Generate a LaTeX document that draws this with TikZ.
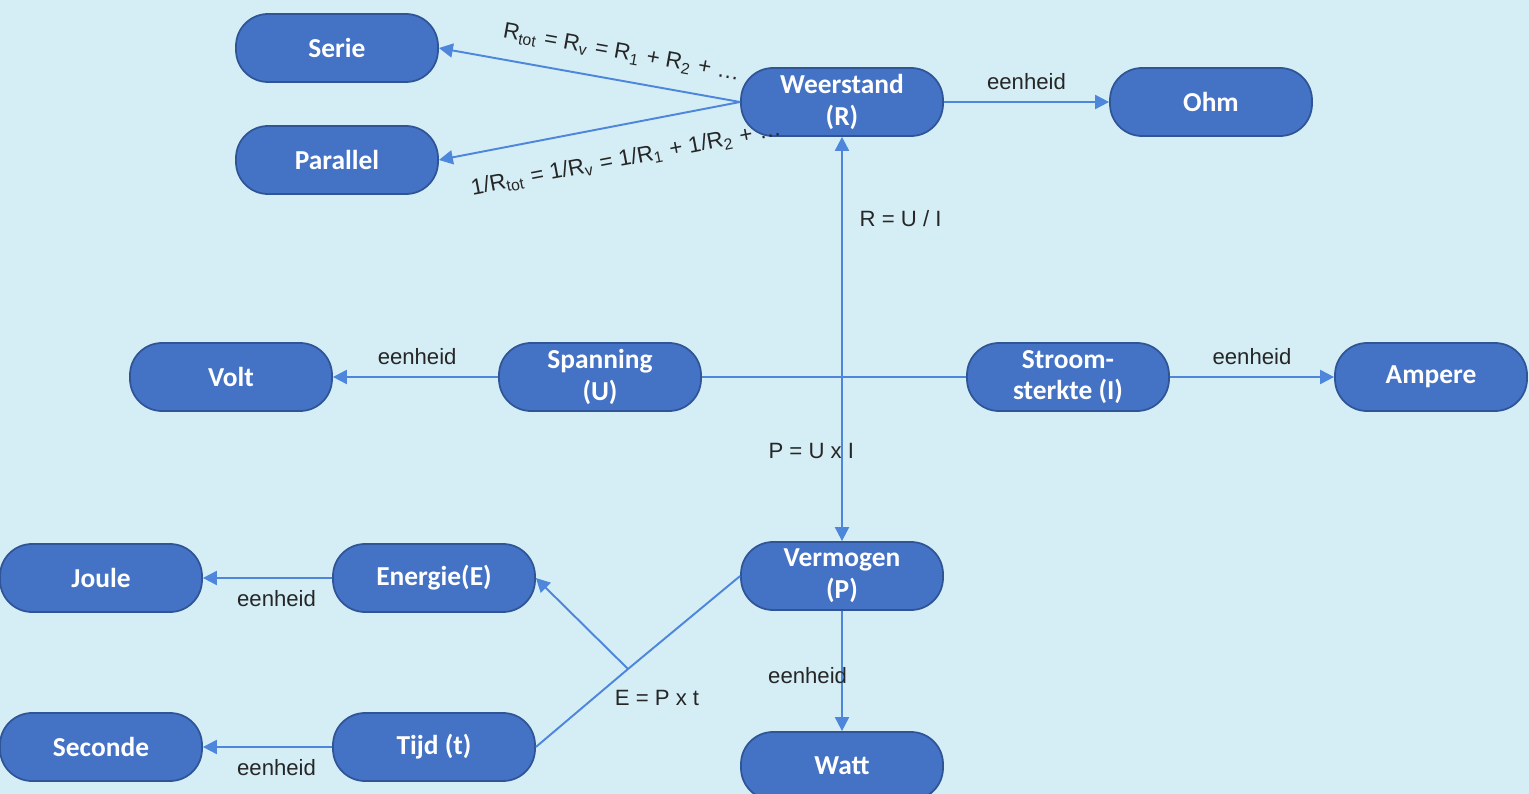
\documentclass[tikz,border=0pt]{standalone}
\usepackage{fontspec}
\setmainfont{Liberation Sans}
\newfontfamily\boxfont{Carlito}
\usetikzlibrary{positioning,arrows.meta}
\definecolor{bgblue}{HTML}{D5EEF6}
\definecolor{boxblue}{HTML}{4472C4}
\definecolor{boxline}{HTML}{2F5597}
\definecolor{linkblue}{HTML}{4D86DB}
\tikzstyle{grootheid} = [rectangle, rounded corners=0.32cm, draw=boxline, line width=0.5pt,
                         fill=boxblue, text=white, minimum width=2.02cm, minimum height=0.68cm,
                         inner ysep=0.5pt, align=center,
                         font=\boxfont\bfseries\fontsize{7.8}{9}\selectfont]
\tikzstyle{lijn}      = [draw=linkblue, line width=0.55pt]
\tikzstyle{arrow}     = [lijn, -{Triangle[length=1.4mm,width=1.4mm]}]
\tikzstyle{lbl}       = [font=\fontsize{6.3}{7}\selectfont, text=black!85]
\tikzstyle{formule}   = [font=\fontsize{6.4}{7}\selectfont, text=black!85, inner sep=1pt]

\begin{document}
\begin{tikzpicture}
    \useasboundingbox[fill=bgblue] (0,0) rectangle (15.29,-7.94);

    % weerstand
    \node[grootheid] (weerstand) at (8.42,-1.02) {Weerstand\\(R)};
    \node[grootheid] (serie)     at (3.37,-0.48) {Serie};
    \node[grootheid] (parallel)  at (3.37,-1.60) {Parallel};
    \node[grootheid] (ohm)       at (12.11,-1.02) {Ohm};

    % spanning en stroom
    \node[grootheid] (spanning) at (6.00,-3.77) {Spanning\\(U)};
    \node[grootheid] (volt)     at (2.31,-3.77) {Volt};
    \node[grootheid] (stroom)   at (10.68,-3.77) {Stroom-\\sterkte (I)};
    \node[grootheid, minimum width=1.92cm] (ampere) at (14.31,-3.77) {Ampere};

    % vermogen en energie
    \node[grootheid] (vermogen) at (8.42,-5.76) {Vermogen\\(P)};
    \node[grootheid] (watt)     at (8.42,-7.66) {Watt};
    \node[grootheid] (energie)  at (4.34,-5.78) {Energie(E)};
    \node[grootheid] (joule)    at (1.01,-5.78) {Joule};
    \node[grootheid] (tijd)     at (4.34,-7.47) {Tijd (t)};
    \node[grootheid] (seconde)  at (1.01,-7.47) {Seconde};

    \coordinate (kruis)  at (weerstand |- spanning);
    \coordinate (splits) at (6.28,-6.69);

    \draw[arrow] (weerstand.west) -- node[formule, sloped, above=0.13cm, pos=0.41]
        {R\textsubscript{tot} = R\textsubscript{v} = R\textsubscript{1} + R\textsubscript{2} + …} (serie.east);
    \draw[arrow] (weerstand.west) -- node[formule, sloped, below=0.2cm, pos=0.4]
        {1/R\textsubscript{tot} = 1/R\textsubscript{v} = 1/R\textsubscript{1} + 1/R\textsubscript{2} + …} (parallel.east);
    \draw[arrow] (weerstand.east) -- node[lbl, above, pos=0.5] {eenheid} (ohm.west);

    \draw[lijn] (spanning.east) -- (stroom.west);
    \draw[arrow] (kruis) -- node[lbl, right=0.05cm, pos=0.66] {R = U / I} (weerstand.south);
    \draw[arrow] (kruis) -- node[lbl, left, inner sep=0pt, xshift=0.13cm, pos=0.45] {P = U x I} (vermogen.north);
    \draw[arrow] (spanning.west) -- node[lbl, above, pos=0.49] {eenheid} (volt.east);
    \draw[arrow] (stroom.east) -- node[lbl, above, pos=0.5] {eenheid} (ampere.west);

    \draw[arrow] (vermogen.south) -- node[lbl, left, inner sep=0pt, xshift=0.06cm, pos=0.54] {eenheid} (watt.north);
    \draw[arrow] (energie.west) -- node[lbl, below, pos=0.43] {eenheid} (joule.east);
    \draw[arrow] (tijd.west) -- node[lbl, below, pos=0.43] {eenheid} (seconde.east);

    \draw[lijn] (vermogen.west) -- node[lbl, at end, xshift=0.29cm, yshift=-0.29cm] {E = P x t} (splits) -- (tijd.east);
    \draw[arrow] (splits) -- (energie.east);
\end{tikzpicture}
\end{document}
